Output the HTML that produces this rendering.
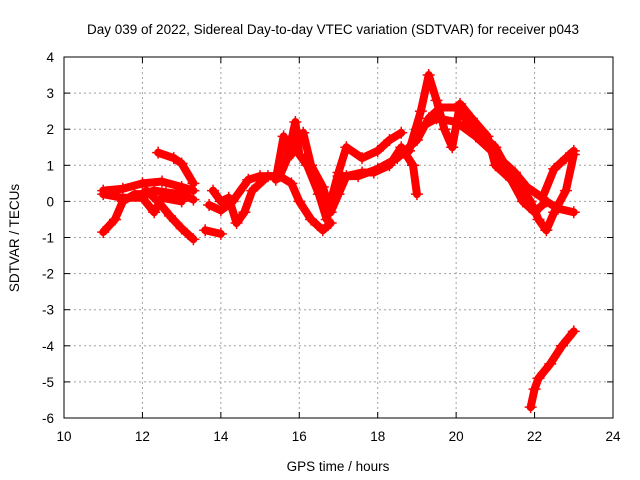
<!DOCTYPE html>
<html><head><meta charset="utf-8"><style>
body{margin:0;background:#fff}
svg{display:block;font-family:"Liberation Sans",sans-serif}
</style></head><body>
<svg id="chart" width="640" height="480">
<text x="333" y="34" text-anchor="middle" font-size="13.5">Day 039 of 2022, Sidereal Day-to-day VTEC variation (SDTVAR) for receiver p043</text>
<text x="338" y="471" text-anchor="middle" font-size="13.5">GPS time / hours</text>
<text transform="translate(19,238) rotate(-90)" text-anchor="middle" font-size="13.5">SDTVAR / TECUs</text>
<g id="grid"></g><g id="series"></g>
<rect x="64" y="57" width="549" height="361" fill="none" stroke="#000"/>
</svg>
<script>
const xTicks=[10,12,14,16,18,20,22,24];
const yTicks=[4,3,2,1,0,-1,-2,-3,-4,-5,-6];
const track1=[[11.0,-0.85],[11.3,-0.5],[11.5,0.0],[11.8,0.2],[12.0,0.2],[12.3,0.3],[12.6,0.25],[13.0,0.2],[13.3,0.05]];
const track2=[[11.0,0.3],[11.5,0.35],[12.0,0.5],[12.5,0.55],[13.0,0.4],[13.3,0.3]];
const track3=[[11.0,0.2],[11.5,0.1],[12.0,0.1],[12.3,-0.3],[12.5,0.1],[13.0,0.0]];
const track4=[[12.1,0.3],[12.4,0.0],[12.7,-0.4],[13.0,-0.75],[13.3,-1.05]];
const track5=[[12.4,1.35],[12.8,1.2],[13.0,1.05],[13.3,0.5]];
const track6=[[13.6,-0.8],[14.0,-0.9]];
const track7=[[13.7,-0.1],[14.0,-0.25],[14.3,0.0],[14.7,0.6],[15.0,0.7],[15.5,0.7],[15.8,0.5],[16.0,0.0],[16.3,-0.5],[16.6,-0.8],[16.8,-0.6]];
const track8=[[13.8,0.3],[14.0,0.0],[14.2,0.1],[14.4,-0.6],[14.6,-0.3],[14.8,0.3],[15.2,0.7],[15.5,0.7],[15.7,1.2],[15.9,2.2],[16.0,1.3],[16.2,1.0],[16.5,0.2],[16.7,-0.5],[16.8,0.0],[17.0,0.8],[17.2,1.5],[17.6,1.2],[18.0,1.4],[18.3,1.7],[18.6,1.9]];
const track9=[[15.4,0.6],[15.6,1.8],[15.8,1.3],[16.1,1.9],[16.3,1.0],[16.6,0.4],[16.8,-0.3],[17.0,0.2],[17.2,0.7],[17.6,0.8],[17.9,0.8],[18.3,1.0],[18.6,1.5],[18.9,1.0],[19.0,0.2]];
const track10=[[17.0,0.7],[17.5,0.7],[18.0,0.9],[18.5,1.2],[19.0,1.7],[19.3,2.3],[19.6,2.6],[20.0,2.6],[20.3,2.2],[20.6,1.9],[21.0,1.5],[21.3,0.9],[21.6,0.5],[21.9,0.0],[22.1,-0.5],[22.3,-0.8],[22.5,-0.3],[22.8,0.3],[23.0,1.3]];
const track11=[[18.8,1.4],[19.1,2.5],[19.3,3.5],[19.5,2.8],[19.7,2.0],[19.9,1.5],[20.1,2.7],[20.4,2.3],[20.8,1.8],[21.0,1.0],[21.4,0.6],[21.7,0.0],[22.0,-0.3],[22.3,0.0],[22.6,-0.2],[23.0,-0.3]];
const track12=[[19.0,2.0],[19.5,2.3],[20.0,2.2],[20.5,1.8],[21.0,1.3],[21.5,0.8],[21.8,0.4],[22.2,0.1],[22.5,0.9],[22.8,1.2],[23.0,1.4]];
const track13=[[21.9,-5.7],[22.0,-5.2],[22.1,-4.9],[22.4,-4.5],[22.7,-4.0],[23.0,-3.6]];
const tracks=[track1,track2,track3,track4,track5,track6,track7,track8,track9,track10,track11,track12,track13];
const X=h=>64+(h-10)*549/14, Y=v=>57+(4-v)*361/10;
const NS='http://www.w3.org/2000/svg';
const grid=document.getElementById('grid'), ser=document.getElementById('series');
function mk(tag,attrs,parent){const e=document.createElementNS(NS,tag);for(const k in attrs)e.setAttribute(k,attrs[k]);parent.appendChild(e);return e;}
xTicks.forEach(t=>{const x=X(t);
 if(t>10&&t<24){const g=mk('line',{x1:x,x2:x,y1:57,y2:418,stroke:'#a0a0a0','stroke-dasharray':'2,3'},grid);
 }
 mk('line',{x1:x,x2:x,y1:418,y2:412,stroke:'#000'},grid);mk('line',{x1:x,x2:x,y1:57,y2:63,stroke:'#000'},grid);
 const l=mk('text',{x:x,y:441,'text-anchor':'middle','font-size':13.5},grid);l.textContent=t;
 });
yTicks.forEach(t=>{const y=Y(t);
 if(t<4&&t>-6){const g=mk('line',{x1:64,x2:613,y1:y,y2:y,stroke:'#a0a0a0','stroke-dasharray':'2,3'},grid);
 }
 mk('line',{x1:64,x2:70,y1:y,y2:y,stroke:'#000'},grid);mk('line',{x1:613,x2:607,y1:y,y2:y,stroke:'#000'},grid);
 const l=mk('text',{x:54,y:y+5,'text-anchor':'end','font-size':13.5},grid);l.textContent=t;
 });
tracks.forEach((tr,i)=>{
 const p=mk('polyline',{points:tr.map(d=>X(d[0])+','+Y(d[1])).join(' '),fill:'none',stroke:'#ff0000','stroke-width':8,'stroke-linejoin':'round','stroke-linecap':'round'},ser);
 
 
 tr.forEach(d=>{const x=X(d[0]),y=Y(d[1]);
  const m=mk('path',{d:`M${x-6},${y}H${x+6}M${x},${y-6}V${y+6}`,stroke:'#ff0000','stroke-width':1.5},ser);
  
  });
});
</script>
</body></html>
